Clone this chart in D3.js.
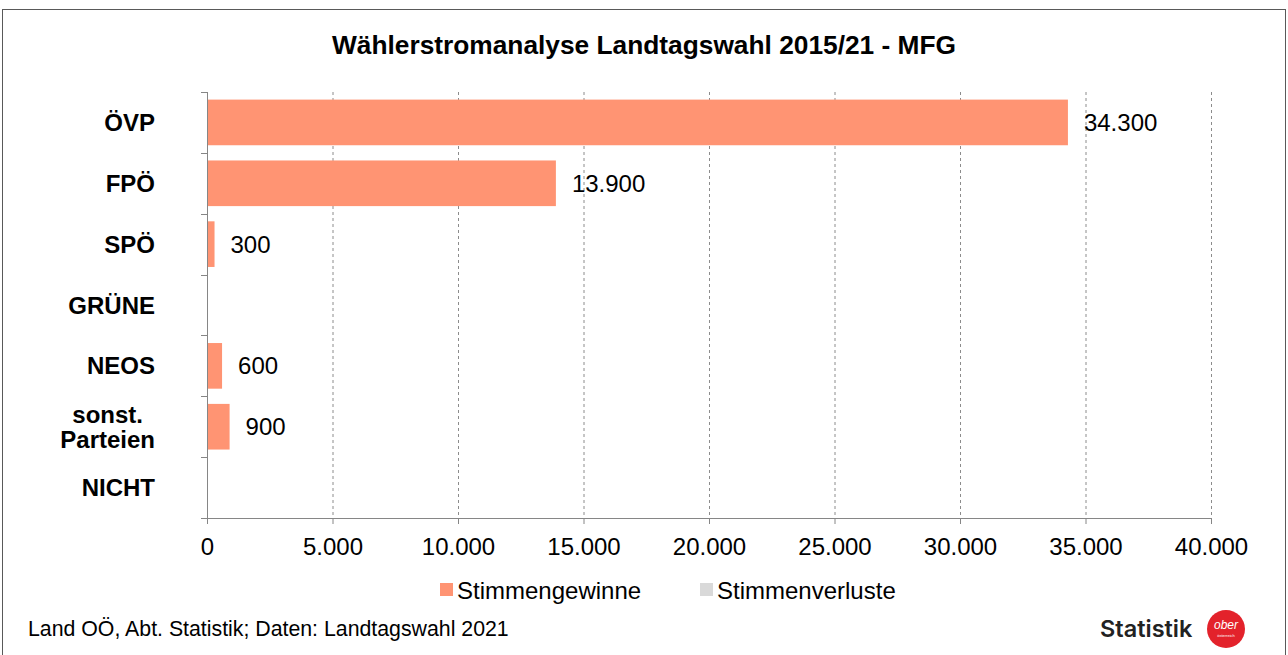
<!DOCTYPE html>
<html>
<head>
<meta charset="utf-8">
<script src="https://cdn.jsdelivr.net/npm/d3@7"></script>
<style>
  body { margin: 0; background: #fff; }
  svg { font-family: "Liberation Sans", Arial, sans-serif; }
</style>
</head>
<body>
<div id="chart"></div>
<script>
// data
const parteien = ["ÖVP", "FPÖ", "SPÖ", "GRÜNE", "NEOS", "sonst.\nParteien", "NICHT"];
const stimmengewinne = [34300, 13900, 300, 0, 600, 900, 0];
const stimmenverluste = [0, 0, 0, 0, 0, 0, 0];
const xTicks = [0, 5000, 10000, 15000, 20000, 25000, 30000, 35000, 40000];
const legendNames = ["Stimmengewinne", "Stimmenverluste"];

const width = 1288, height = 655;
const margin = { top: 92, left: 207, right: 77, bottom: 137 };
const innerW = width - margin.left - margin.right;
const innerH = height - margin.top - margin.bottom;

const fmt = n => d3.format(",")(n).replace(/,/g, ".");

const svg = d3.select("#chart")
  .append("svg")
  .attr("width", width)
  .attr("height", height);

// outer frame
svg.append("rect")
  .attr("x", 2.5).attr("y", 9.5)
  .attr("width", 1283).attr("height", 660)
  .attr("fill", "#fff")
  .attr("stroke", "#595959");

svg.append("text")
  .attr("x", 644).attr("y", 54)
  .attr("text-anchor", "middle")
  .style("font-size", "26.3px").style("font-weight", "bold")
  .text("Wählerstromanalyse Landtagswahl 2015/21 - MFG");

const g = svg.append("g")
  .attr("transform", "translate(" + margin.left + "," + margin.top + ")");

const x = d3.scaleLinear().domain([0, 40000]).range([0, innerW]);
const y = d3.scaleBand().domain(parteien).range([0, innerH]).paddingInner(0.25).paddingOuter(0.125);

// gridlines
g.append("g").selectAll("line")
  .data(xTicks.slice(1))
  .enter().append("line")
  .attr("x1", d => x(d) + 0.5).attr("x2", d => x(d) + 0.5)
  .attr("y1", 0).attr("y2", innerH)
  .attr("stroke", "#8c8c8c")
  .attr("stroke-dasharray", "3,3");

// bars
g.selectAll(".bar")
  .data(parteien.map((p, i) => ({ p: p, v: stimmengewinne[i] })))
  .enter().append("rect")
  .attr("x", 0)
  .attr("y", d => y(d.p))
  .attr("width", d => x(d.v))
  .attr("height", y.bandwidth())
  .attr("fill", "#FF9473");

// value labels
g.selectAll(".lbl")
  .data(parteien.map((p, i) => ({ p: p, v: stimmengewinne[i] })).filter(d => d.v > 0))
  .enter().append("text")
  .attr("x", d => x(d.v) + 16)
  .attr("y", d => y(d.p) + y.bandwidth() / 2)
  .attr("dy", "0.36em")
  .style("font-size", "24px")
  .text(d => fmt(d.v));

// x axis
const xAxis = g.append("g")
  .attr("transform", "translate(0," + innerH + ")")
  .call(d3.axisBottom(x).tickValues(xTicks).tickFormat(fmt).tickSize(6).tickSizeOuter(0).tickPadding(14));
xAxis.select(".domain").attr("stroke", "#868686");
xAxis.selectAll(".tick line").attr("stroke", "#868686");
xAxis.selectAll("text").style("font-size", "24px").attr("fill", "#000").style("font-family", "Liberation Sans, Arial");

// y axis: line with ticks at band boundaries
const step = innerH / parteien.length;
g.append("line")
  .attr("x1", 0.5).attr("x2", 0.5).attr("y1", 0).attr("y2", innerH)
  .attr("stroke", "#868686");
g.append("g").selectAll("line")
  .data(d3.range(parteien.length + 1))
  .enter().append("line")
  .attr("x1", -6).attr("x2", 0.5)
  .attr("y1", d => Math.round(d * step) + 0.5).attr("y2", d => Math.round(d * step) + 0.5)
  .attr("stroke", "#868686");

// category labels: block right-aligned, lines centred within the block
const labelRight = -52;
g.selectAll(".cat")
  .data(parteien)
  .enter().append("text")
  .attr("text-anchor", "middle")
  .attr("y", d => y(d) + y.bandwidth() / 2)
  .style("font-size", "24px").style("font-weight", "bold")
  .each(function (d) {
    const lines = d.split("\n");
    const t = d3.select(this);
    const spans = lines.map((l, i) => t.append("tspan")
      .attr("dy", i === 0 ? (0.36 - (lines.length - 1) * 0.52) + "em" : "1.04em")
      .text(l));
    const maxW = d3.max(spans, s => s.node().getComputedTextLength());
    spans.forEach(s => s.attr("x", labelRight - maxW / 2));
  });

// legend
const legendColors = ["#FF9473", "#D9D9D9"];
const legendX = [440, 700];
const legend = svg.append("g");
legendNames.forEach((n, i) => {
  legend.append("rect")
    .attr("x", legendX[i]).attr("y", 583)
    .attr("width", 13).attr("height", 13)
    .attr("fill", legendColors[i]);
  legend.append("text")
    .attr("x", legendX[i] + 17).attr("y", 590)
    .attr("dy", "0.36em")
    .style("font-size", "24px")
    .text(n);
});

// footer
svg.append("text")
  .attr("x", 28).attr("y", 636)
  .style("font-size", "21.3px")
  .text("Land OÖ, Abt. Statistik; Daten: Landtagswahl 2021");

// logo
svg.append("text")
  .attr("x", 1100).attr("y", 637)
  .style("font-size", "23.5px").style("font-weight", "600")
  .style("font-family", "Inter, sans-serif")
  .attr("fill", "#222")
  .text("Statistik");
svg.append("circle")
  .attr("cx", 1226).attr("cy", 629).attr("r", 19)
  .attr("fill", "#E3222B");
svg.append("text")
  .attr("x", 1226).attr("y", 629)
  .attr("text-anchor", "middle")
  .style("font-size", "12px").style("font-style", "italic")
  .attr("fill", "#fff")
  .text("ober");
svg.append("text")
  .attr("x", 1226).attr("y", 637)
  .attr("text-anchor", "middle")
  .style("font-size", "4px")
  .attr("fill", "#fff")
  .text("österreich");
</script>
</body>
</html>
